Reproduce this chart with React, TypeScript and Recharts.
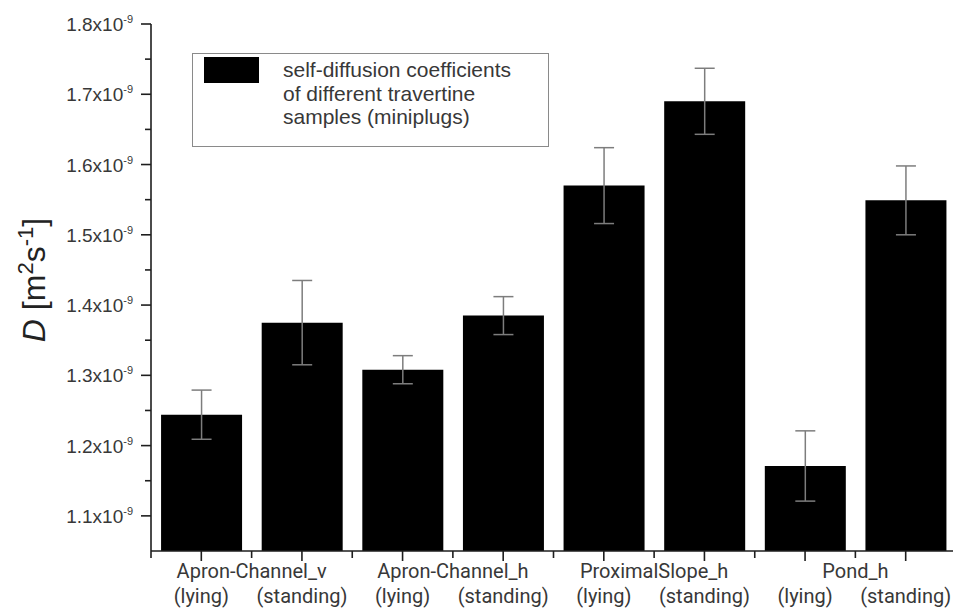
import { BarChart, Bar, XAxis, YAxis, ErrorBar, Legend } from 'recharts'

// values in units of 1e-9 m^2 s^-1
const GROUPS = ['Apron-Channel_v', 'Apron-Channel_h', 'ProximalSlope_h', 'Pond_h']
const ORIENTATIONS = ['(lying)', '(standing)']
const D_VALUES = [1.244, 1.375, 1.308, 1.385, 1.570, 1.690, 1.171, 1.549]
const D_ERRORS = [0.035, 0.060, 0.020, 0.027, 0.054, 0.047, 0.050, 0.049]
const Y_MAJOR_TICKS = [1.1, 1.2, 1.3, 1.4, 1.5, 1.6, 1.7, 1.8]
const Y_MINOR_TICKS = [1.15, 1.25, 1.35, 1.45, 1.55, 1.65, 1.75]
const LEGEND_LINES = ['self-diffusion coefficients', 'of different travertine', 'samples (miniplugs)']

const CHART_W = 1000
const CHART_H = 610
const MARGIN = { top: 24, right: 44, left: 0, bottom: 0 }
const Y_AXIS_W = 151
const X_AXIS_H = 59
const PLOT_W = CHART_W - MARGIN.left - MARGIN.right - Y_AXIS_W
const CAT_W = PLOT_W / D_VALUES.length

const AXIS = '#1e1e1e'
const TEXT = '#383838'
const SANS = '"Liberation Sans", Arial, sans-serif'
const XFONT = 'Roboto, "Noto Sans", sans-serif'

const data = D_VALUES.map((d, i) => ({
  name: `${GROUPS[Math.floor(i / 2)]} ${ORIENTATIONS[i % 2]}`,
  d,
  err: D_ERRORS[i],
}))

function YTick({ x, y, payload }: any) {
  const major = Y_MAJOR_TICKS.some(t => Math.abs(t - payload.value) < 1e-6)
  return (
    <g>
      <line x1={x} x2={x - (major ? 10 : 6)} y1={y} y2={y} stroke={AXIS} strokeWidth={1.6} />
      {major && (
        <text x={x - 18} y={y + 7} textAnchor="end" fontFamily={SANS} fontSize={19} fill={TEXT}>
          {payload.value.toFixed(1)}x10
          <tspan dy={-8} fontSize={11}>-9</tspan>
        </text>
      )}
    </g>
  )
}

function XTick({ x, y, index }: any) {
  const half = CAT_W / 2
  const last = index === D_VALUES.length - 1
  return (
    <g>
      <line x1={x} x2={x} y1={y} y2={y + 10} stroke={AXIS} strokeWidth={1.6} />
      <line x1={x - half} x2={x - half} y1={y} y2={y + 7} stroke={AXIS} strokeWidth={1.6} />
      {last && <line x1={x + half} x2={x + half} y1={y} y2={y + 7} stroke={AXIS} strokeWidth={1.6} />}
      {index % 2 === 0 && (
        <text x={x + half} y={y + 27} textAnchor="middle" fontFamily={XFONT} fontSize={20} fill={TEXT}>
          {GROUPS[index / 2]}
        </text>
      )}
      <text x={x} y={y + 52} textAnchor="middle" fontFamily={XFONT} fontSize={20} fill={TEXT}>
        {ORIENTATIONS[index % 2]}
      </text>
    </g>
  )
}

function YLabel() {
  return (
    <text
      x={45} y={280} transform="rotate(-90, 45, 280)" textAnchor="middle"
      fontFamily={SANS} fontSize={32} fill="#222"
    >
      <tspan fontStyle="italic">D</tspan>
      <tspan> [m</tspan>
      <tspan dy={-12} fontSize={22}>2</tspan>
      <tspan dy={12}>s</tspan>
      <tspan dy={-12} fontSize={22}>-1</tspan>
      <tspan dy={12}>]</tspan>
    </text>
  )
}

function LegendBox() {
  return (
    <div style={{
      position: 'relative', width: 357, height: 94, boxSizing: 'border-box',
      border: '1px solid #8a8a8a', background: '#fff',
    }}>
      <div style={{ position: 'absolute', left: 11, top: 3, width: 55, height: 26, background: '#000' }} />
      <div style={{
        position: 'absolute', left: 90, top: 4, fontFamily: SANS, fontSize: 21,
        lineHeight: '23.5px', color: TEXT, whiteSpace: 'nowrap',
      }}>
        {LEGEND_LINES.map(l => <div key={l}>{l}</div>)}
      </div>
    </div>
  )
}

export default function App() {
  return (
    <div style={{ position: 'absolute', left: 0, top: 0, width: 953, height: 610, overflow: 'hidden', background: '#fff' }}>
      <BarChart width={CHART_W} height={CHART_H} data={data} margin={MARGIN} barCategoryGap="10%">
        <XAxis
          dataKey="name" interval={0} height={X_AXIS_H}
          tick={<XTick />} tickLine={false} tickSize={0} tickMargin={0}
          axisLine={{ stroke: AXIS, strokeWidth: 1.6 }}
        />
        <YAxis
          type="number" domain={[1.05, 1.8]} width={Y_AXIS_W}
          ticks={[...Y_MAJOR_TICKS, ...Y_MINOR_TICKS].sort((a, b) => a - b)}
          allowDataOverflow interval={0}
          tick={<YTick />} tickLine={false} tickSize={0} tickMargin={0}
          axisLine={{ stroke: AXIS, strokeWidth: 1.6 }}
          label={{ content: () => <YLabel /> }}
        />
        <Legend
          layout="vertical" align="center" verticalAlign="middle"
          content={() => <LegendBox />}
          wrapperStyle={{ left: 192, top: 53, width: 357, height: 94 }}
        />
        <Bar dataKey="d" fill="#000" isAnimationActive={false}>
          <ErrorBar dataKey="err" width={10} stroke="#7d7d7d" strokeWidth={1.5} direction="y" />
        </Bar>
      </BarChart>
    </div>
  )
}
